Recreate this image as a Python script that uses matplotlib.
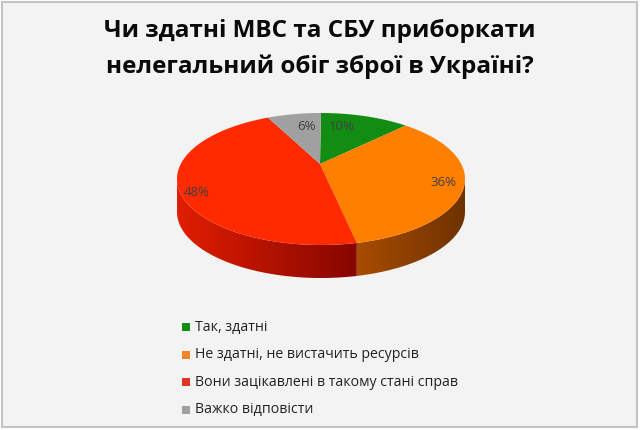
import numpy as np
import matplotlib.pyplot as plt
from matplotlib.patches import Polygon, Rectangle
from matplotlib.colors import LinearSegmentedColormap

title = "Чи здатні МВС та СБУ приборкати\nнелегальний обіг зброї в Україні?"
categories = ["Так, здатні", "Не здатні, не вистачить ресурсів",
              "Вони зацікавлені в такому стані справ", "Важко відповісти"]
values = [10, 36, 48, 6]
colors = ["#138c13", "#ff8000", "#ff2a00", "#a0a0a0"]
side_colors = [("#0c5a0c", "#083e08"), ("#a84c00", "#6e3200"),
               ("#e01e00", "#860600"), ("#6e6e6e", "#505050")]
legend_colors = ["#138c13", "#f5822a", "#e63222", "#a0a0a0"]

plt.rcParams['font.family'] = ['Open Sans', 'DejaVu Sans']

fig = plt.figure(figsize=(6.4, 4.3), dpi=100)
fig.patch.set_facecolor("white")
ax = fig.add_axes([0, 0, 1, 1])
ax.set_xlim(0, 640)
ax.set_ylim(430, 0)
ax.axis("off")

ax.add_patch(Rectangle((1.5, 1.5), 635, 425, facecolor="#f3f3f3",
                       edgecolor="#c4c4c4", lw=1.5, zorder=0))

# pie geometry (pixel units)
cx, cy, a, b, depth = 321, 179, 144, 66, 33
apex = (320, 164)


def pt(t):
    r = np.radians(t)
    return cx + a * np.cos(r), cy - b * np.sin(r)


fracs = np.array(values) / sum(values)
starts = 90 - 360 * np.concatenate([[0], np.cumsum(fracs)[:-1]])
ends = starts - 360 * fracs

# side walls (visible front half: t in [-180, 0])
for s, e, (c1, c2) in zip(starts, ends, side_colors):
    lo, hi = max(e, -180), min(s, 0)
    if lo >= hi:
        continue
    ts = np.linspace(hi, lo, 80)
    xs, ys = pt(ts)
    poly = list(zip(xs, ys)) + list(zip(xs[::-1], ys[::-1] + depth))
    patch = Polygon(poly, closed=True, facecolor="none", edgecolor="none")
    ax.add_patch(patch)
    cmap = LinearSegmentedColormap.from_list("g", [c1, c2])
    x0, x1 = xs.min(), xs.max()
    grad = np.linspace(0, 1, 256).reshape(1, -1)
    im = ax.imshow(grad, cmap=cmap, extent=(x0, x1, ys.max() + depth, ys.min()),
                   aspect="auto", zorder=2)
    im.set_clip_path(patch)

# top face
for s, e, c in zip(starts, ends, colors):
    ts = np.linspace(s, e, 100)
    xs, ys = pt(ts)
    poly = [apex] + list(zip(xs, ys))
    ax.add_patch(Polygon(poly, closed=True, facecolor=c, edgecolor="none", zorder=3))

# percentage labels
label_pos = [(342, 127), (443, 182), (197, 193), (306, 127)]
for v, (x, y) in zip(values, label_pos):
    ax.text(x, y, f"{v}%", ha="center", va="center", fontsize=9.5,
            color="#404040", zorder=4)

ax.text(320, 49, title, ha="center", va="center", fontsize=17.5,
        fontweight="bold", color="#0a0a0a", linespacing=1.6)

# legend
for i, (cat, c) in enumerate(zip(categories, legend_colors)):
    y = 327 + i * 27.5
    ax.add_patch(Rectangle((182, y - 4), 8, 8, facecolor=c, edgecolor="none"))
    ax.text(195, y, cat, ha="left", va="center", fontsize=10.2, color="#222222")

fig.savefig("out.png", dpi=100, facecolor=fig.get_facecolor())
